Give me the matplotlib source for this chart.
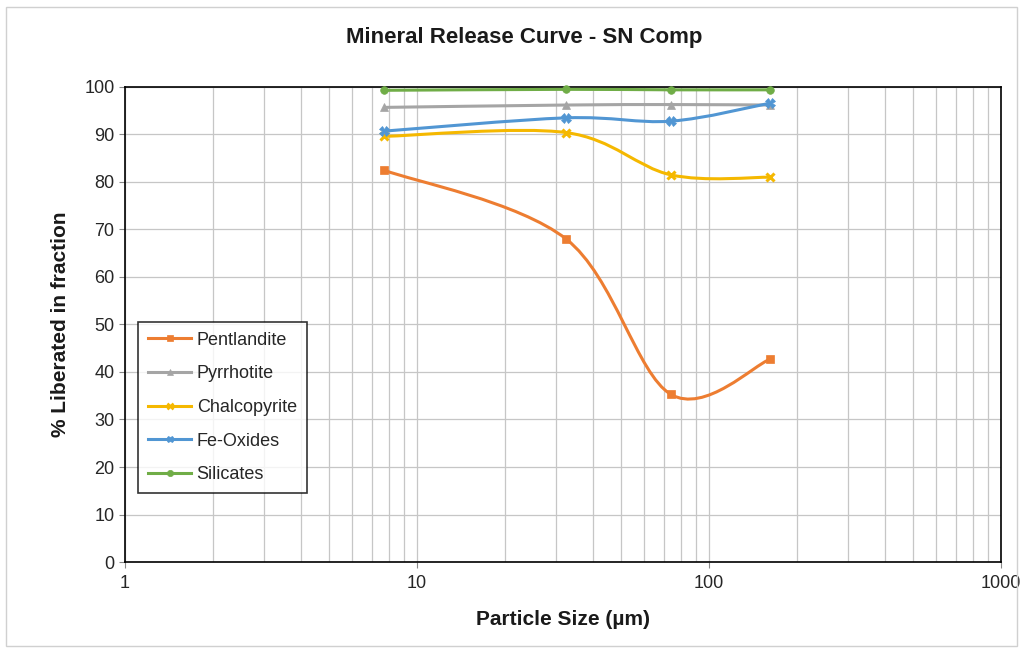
import numpy as np
import matplotlib as mpl
mpl.use('Agg')
import matplotlib.pyplot as plt
from matplotlib.path import Path
from matplotlib.patches import PathPatch, Rectangle
from matplotlib.transforms import Affine2D
import matplotlib.lines as mlines
from matplotlib.ticker import LogLocator, FixedLocator, NullFormatter

mpl.rcParams['font.family'] = ['Liberation Sans', 'DejaVu Sans']

# particle sizes (um) and % liberated per mineral
sizes = [7.7, 32.4, 74, 162]
pentlandite = [82.5, 68.0, 35.3, 42.7]
pyrrhotite = [95.7, 96.2, 96.3, 96.2]
chalcopyrite = [89.6, 90.4, 81.5, 81.0]
fe_oxides = [90.7, 93.5, 92.8, 96.6]
silicates = [99.3, 99.5, 99.4, 99.4]

series = [
    ('Pentlandite', pentlandite, '#ED7D31', 's'),
    ('Pyrrhotite', pyrrhotite, '#A5A5A5', '^'),
    ('Chalcopyrite', chalcopyrite, '#F5B800', 'x'),
    ('Fe-Oxides', fe_oxides, '#5196D3', 'X'),
    ('Silicates', silicates, '#70AD47', 'o'),
]

XMIN, XMAX, YMIN, YMAX = 1, 1000, 0, 100


def smooth_path(xs, ys):
    # excel-like smoothed line: cubic bezier, control points from neighbours
    p = np.column_stack([np.log10(xs), ys])
    pad = np.vstack([p[0], p, p[-1]])
    verts = [p[0]]
    codes = [Path.MOVETO]
    for i in range(len(p) - 1):
        p0, p1, p2, p3 = pad[i], pad[i + 1], pad[i + 2], pad[i + 3]
        c1 = p1 + (p2 - p0) / 6.0
        c2 = p2 - (p3 - p1) / 6.0
        verts += [c1, c2, p2]
        codes += [Path.CURVE4] * 3
    return Path(verts, codes)


fig = plt.figure(figsize=(10.23, 6.51), dpi=100)
fig.patches.append(Rectangle((0.006, 0.008), 0.988, 0.982, transform=fig.transFigure,
                             fill=False, ec='#D0D0D0', lw=1))
ax = fig.add_axes([0.1222, 0.1367, 0.8563, 0.7297])
ax.set_xscale('log')
ax.set_xlim(XMIN, XMAX)
ax.set_ylim(YMIN, YMAX)

grid_c = '#C6C6C6'
ax.xaxis.set_major_locator(LogLocator(base=10, numticks=10))
ax.xaxis.set_minor_locator(LogLocator(base=10, subs=np.arange(2, 10), numticks=10))
ax.xaxis.set_minor_formatter(NullFormatter())
ax.set_xticks([1, 10, 100, 1000])
ax.set_xticklabels(['1', '10', '100', '1000'])
ax.yaxis.set_major_locator(FixedLocator(np.arange(0, 101, 10)))
ax.grid(True, which='both', axis='x', color=grid_c, lw=0.9)
ax.grid(True, which='major', axis='y', color=grid_c, lw=0.9)
ax.set_axisbelow(True)

for s in ax.spines.values():
    s.set_color('black')
    s.set_linewidth(1.2)

ax.tick_params(axis='both', which='major', labelsize=13, color='#888888',
               length=4, width=0.8, direction='out', labelcolor='#262626')
ax.tick_params(axis='x', which='minor', length=0)
ax.tick_params(axis='x', which='major', pad=5)

# (log10 x, y) -> axes fraction
tr = Affine2D().translate(-np.log10(XMIN), -YMIN).scale(
    1.0 / (np.log10(XMAX) - np.log10(XMIN)), 1.0 / (YMAX - YMIN)) + ax.transAxes

handles = []
for name, vals, col, mk in series:
    ax.add_patch(PathPatch(smooth_path(sizes, vals), transform=tr, fill=False,
                           ec=col, lw=2.2, zorder=3, clip_on=False))
    if mk == 'x':
        kw = dict(markersize=6, markeredgewidth=2.2)
    elif mk == 'X':
        kw = dict(markersize=7, markeredgewidth=0.5)
    else:
        kw = dict(markersize=5.5, markeredgewidth=0.5)
    ax.plot(sizes, vals, linestyle='none', marker=mk, color=col, mec=col,
            zorder=4, clip_on=False, **kw)
    handles.append(mlines.Line2D([], [], color=col, lw=2.2, marker=mk, mec=col,
                                 label=name, markersize=4.5,
                                 markeredgewidth=1.8 if mk == 'x' else 0.5))

fig.text(0.512, 1 - 37 / 651, 'Mineral Release Curve - SN Comp', fontsize=16,
         fontweight='bold', color='#1a1a1a', ha='center', va='center')
ax.set_xlabel('Particle Size (\u00b5m)', fontsize=15, fontweight='bold',
              color='#1a1a1a', labelpad=13)
ax.set_ylabel('% Liberated in fraction', fontsize=15, fontweight='bold',
              color='#1a1a1a', labelpad=10)

leg = ax.legend(handles=handles, loc='lower left', bbox_to_anchor=(0.0148, 0.145),
                fontsize=13, frameon=True, fancybox=False, handlelength=2.4,
                labelspacing=0.92, borderpad=0.55, handletextpad=0.3,
                borderaxespad=0)
leg.get_frame().set_edgecolor('black')
leg.get_frame().set_linewidth(1.2)
for t in leg.get_texts():
    t.set_color('#262626')

fig.savefig('out.png', dpi=100)
